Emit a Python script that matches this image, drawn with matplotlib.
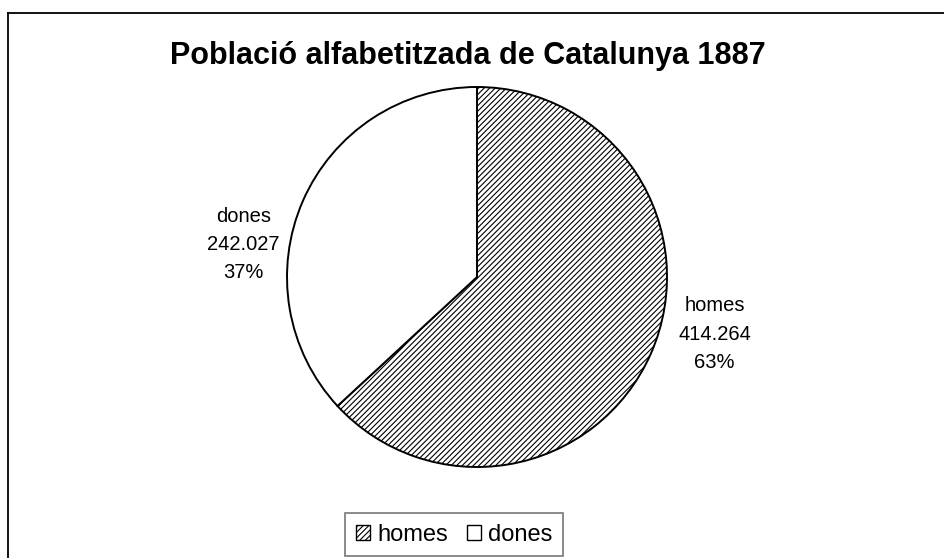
import matplotlib.pyplot as plt
from matplotlib.lines import Line2D
from matplotlib.patches import Patch

plt.rcParams['font.family'] = ['Liberation Sans', 'DejaVu Sans']
plt.rcParams['hatch.linewidth'] = 0.8

# dades
categories = ['homes', 'dones']
values = [414264, 242027]
value_labels = ['414.264', '242.027']
title = 'Població alfabetitzada de Catalunya 1887'

fig = plt.figure(figsize=(9.44, 5.58), dpi=100)

# marc (retallat a la dreta i a baix)
fig.add_artist(Line2D([8 / 944, 1.0], [1 - 13 / 558, 1 - 13 / 558], color='black', lw=1.3))
fig.add_artist(Line2D([8 / 944, 8 / 944], [0, 1 - 13 / 558], color='black', lw=1.3))

fig.text(468 / 944, 1 - 56 / 558, title, ha='center', va='center',
         fontsize=22, fontweight='bold')

# eixos: radi del pastís ~190 px, centre (477, 277)
r = 190
lim = 1.4
ax = fig.add_axes([(477 - lim * r) / 944, (558 - 277 - lim * r) / 558,
                   2 * lim * r / 944, 2 * lim * r / 558])

wedges, _ = ax.pie(values, startangle=90, counterclock=False, radius=1,
                   colors=['white', 'white'],
                   wedgeprops=dict(edgecolor='black', linewidth=1.4))
wedges[0].set_hatch('//////')
ax.set_xlim(-lim, lim)
ax.set_ylim(-lim, lim)
ax.axis('off')

total = sum(values)
pcts = [round(v / total * 100) for v in values]
label_pos = [(1.25, -0.30), (-1.23, 0.17)]
for cat, vl, p, (lx, ly) in zip(categories, value_labels, pcts, label_pos):
    ax.text(lx, ly, f'{cat}\n{vl}\n{p}%', ha='center', va='center',
            fontsize=14.5, linespacing=1.62)

handles = [Patch(facecolor='white', edgecolor='black', hatch='//////', label=categories[0]),
           Patch(facecolor='white', edgecolor='black', label=categories[1])]
leg = fig.legend(handles=handles, loc='upper center', ncol=2,
                 bbox_to_anchor=(454 / 944, 1 - 513 / 558), borderaxespad=0,
                 fontsize=17, frameon=True, fancybox=False, edgecolor='#555555',
                 handlelength=0.6, handleheight=0.6, handletextpad=0.3,
                 columnspacing=0.8, borderpad=0.45)
leg.get_frame().set_linewidth(1.2)

fig.savefig('out.png', dpi=100)
